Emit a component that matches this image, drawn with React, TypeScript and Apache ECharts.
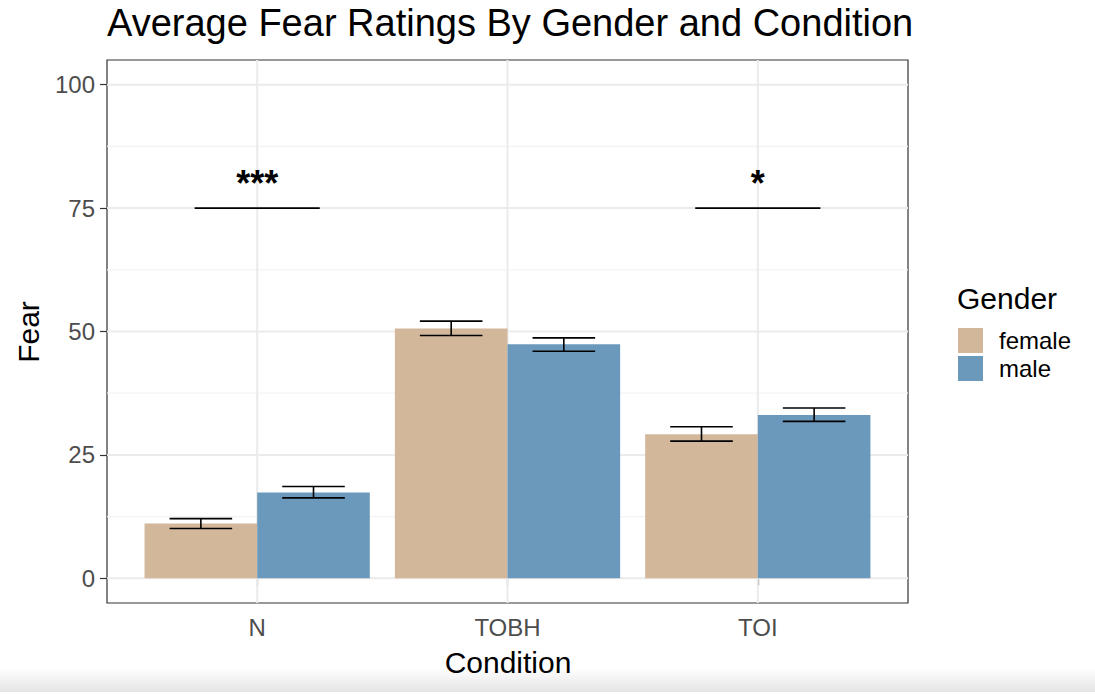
import React, { useEffect, useRef } from 'react';
import * as echarts from 'echarts';

const categories = ['N', 'TOBH', 'TOI'];
const genders = ['female', 'male'];
const femaleMeans = [11.1, 50.6, 29.2];
const maleMeans = [17.4, 47.4, 33.1];
const femaleLow = [10.1, 49.2, 27.8];
const femaleHigh = [12.1, 52.1, 30.7];
const maleLow = [16.3, 46.0, 31.8];
const maleHigh = [18.6, 48.7, 34.5];
const yTicks = [0, 25, 50, 75, 100];
const yMinorTicks = [12.5, 37.5, 62.5, 87.5];
const sigCategories = ['N', 'TOI'];
const sigLabels = ['***', '*'];
const sigLineValue = 75;
const sigLabelValue = 80;

const FONT = '"Liberation Sans", Arial, Helvetica, sans-serif';
const FEMALE = '#D2B79B';
const MALE = '#6B99BB';
const DODGE = 0.225;
const HALF_BAR = 0.225;
const HALF_CAP = 0.125;
const HALF_SIG = 0.25;
const X_MIN = 0.4;
const X_MAX = 3.6;

export default function App() {
  const ref = useRef<HTMLDivElement>(null);
  useEffect(() => {
    const chart = echarts.init(ref.current as HTMLDivElement, null, { renderer: 'svg' });
    const catX = (c: string) => categories.indexOf(c) + 1;

    const barSeries = (name: string, means: number[], offset: number, color: string) => ({
      type: 'custom',
      name,
      itemStyle: { color },
      data: means.map((v, i) => [i + 1 + offset, v]),
      z: 3,
      renderItem: (params: any, api: any) => {
        const x = api.value(0);
        const y = api.value(1);
        const p1 = api.coord([x - HALF_BAR, y]);
        const p2 = api.coord([x + HALF_BAR, 0]);
        return {
          type: 'rect',
          shape: { x: p1[0], y: p1[1], width: p2[0] - p1[0], height: p2[1] - p1[1] },
          style: { fill: color },
        };
      },
    });

    const errSeries = (name: string, lows: number[], highs: number[], offset: number) => ({
      type: 'custom',
      name,
      data: lows.map((l, i) => [i + 1 + offset, l, highs[i]]),
      z: 4,
      renderItem: (params: any, api: any) => {
        const x = api.value(0);
        const lo = api.value(1);
        const hi = api.value(2);
        const a = api.coord([x, lo]);
        const b = api.coord([x, hi]);
        const l1 = api.coord([x - HALF_CAP, lo]);
        const r1 = api.coord([x + HALF_CAP, lo]);
        const l2 = api.coord([x - HALF_CAP, hi]);
        const r2 = api.coord([x + HALF_CAP, hi]);
        const st = { stroke: '#000', lineWidth: 1.6 };
        return {
          type: 'group',
          children: [
            { type: 'line', shape: { x1: a[0], y1: a[1], x2: b[0], y2: b[1] }, style: st },
            { type: 'line', shape: { x1: l1[0], y1: l1[1], x2: r1[0], y2: r1[1] }, style: st },
            { type: 'line', shape: { x1: l2[0], y1: l2[1], x2: r2[0], y2: r2[1] }, style: st },
          ],
        };
      },
    });

    const hGridSeries = (name: string, values: number[], color: string, width: number) => ({
      type: 'custom',
      name,
      data: values.map((v) => [2, v]),
      z: 1,
      silent: true,
      renderItem: (params: any, api: any) => {
        const v = api.value(1);
        const a = api.coord([X_MIN, v]);
        const b = api.coord([X_MAX, v]);
        return { type: 'line', shape: { x1: a[0], y1: a[1], x2: b[0], y2: b[1] }, style: { stroke: color, lineWidth: width } };
      },
    });

    const vGridSeries = {
      type: 'custom',
      name: 'vgrid',
      data: categories.map((c, i) => [i + 1, 50]),
      z: 1,
      silent: true,
      renderItem: (params: any, api: any) => {
        const x = api.value(0);
        const a = api.coord([x, -5]);
        const b = api.coord([x, 105]);
        return { type: 'line', shape: { x1: a[0], y1: a[1], x2: b[0], y2: b[1] }, style: { stroke: '#EBEBEB', lineWidth: 2 } };
      },
    };

    const sigSeries = {
      type: 'custom',
      name: 'sig',
      data: sigCategories.map((c) => [catX(c), sigLineValue, sigLabelValue]),
      z: 5,
      renderItem: (params: any, api: any) => {
        const x = api.value(0);
        const ly = api.value(1);
        const ty = api.value(2);
        const a = api.coord([x - HALF_SIG, ly]);
        const b = api.coord([x + HALF_SIG, ly]);
        const t = api.coord([x, ty]);
        return {
          type: 'group',
          children: [
            { type: 'line', shape: { x1: a[0], y1: a[1], x2: b[0], y2: b[1] }, style: { stroke: '#000', lineWidth: 1.6 } },
            {
              type: 'text',
              x: t[0],
              y: t[1],
              style: {
                text: sigLabels[params.dataIndex],
                fill: '#000',
                font: `bold 36px ${FONT}`,
                textAlign: 'center',
                textVerticalAlign: 'middle',
              },
            },
          ],
        };
      },
    };

    const option: any = {
      animation: false,
      backgroundColor: '#fff',
      textStyle: { fontFamily: FONT },
      grid: {
        left: 107,
        right: 187,
        top: 60,
        bottom: 95,
        show: true,
        borderColor: '#333333',
        borderWidth: 1.2,
        backgroundColor: '#fff',
        containLabel: false,
      },
      xAxis: {
        type: 'value',
        min: X_MIN,
        max: X_MAX,
        axisLine: { show: false },
        axisTick: { show: true, customValues: [1, 2, 3], length: 7, lineStyle: { color: '#333333', width: 1.2 } },
        axisLabel: {
          customValues: [1, 2, 3],
          formatter: (v: number) => categories[Math.round(v) - 1] || '',
          color: '#4D4D4D',
          fontSize: 24,
          fontFamily: FONT,
          margin: 12,
        },
        splitLine: { show: false },
      },
      yAxis: {
        type: 'value',
        min: -5,
        max: 105,
        axisLine: { show: false },
        axisTick: { show: true, customValues: yTicks, length: 7, lineStyle: { color: '#333333', width: 1.2 } },
        axisLabel: {
          customValues: yTicks,
          color: '#4D4D4D',
          fontSize: 24,
          fontFamily: FONT,
          margin: 12,
        },
        splitLine: { show: false },
      },
      legend: {
        orient: 'vertical',
        left: 958,
        top: 328,
        padding: 0,
        itemWidth: 25,
        itemHeight: 25,
        itemGap: 3,
        selectedMode: false,
        data: [
          { name: genders[0], icon: 'rect', itemStyle: { color: FEMALE } },
          { name: genders[1], icon: 'rect', itemStyle: { color: MALE } },
        ],
        textStyle: { fontSize: 24, color: '#000', fontFamily: FONT, padding: [0, 0, 0, 11] },
      },
      graphic: [
        {
          type: 'rect',
          left: 0,
          top: 668,
          shape: { width: 1095, height: 24 },
          style: {
            fill: new echarts.graphic.LinearGradient(0, 0, 0, 1, [
              { offset: 0, color: 'rgba(228,228,228,0)' },
              { offset: 1, color: 'rgba(228,228,228,1)' },
            ]),
          },
          silent: true,
          z: -10,
        },
        {
          type: 'text',
          x: 107,
          y: 23,
          style: { text: 'Average Fear Ratings By Gender and Condition', fill: '#000', font: `38px ${FONT}`, textVerticalAlign: 'middle' },
        },
        {
          type: 'text',
          x: 508,
          y: 662,
          style: { text: 'Condition', fill: '#000', font: `30px ${FONT}`, textAlign: 'center', textVerticalAlign: 'middle' },
        },
        {
          type: 'text',
          x: 28,
          y: 332,
          rotation: Math.PI / 2,
          style: { text: 'Fear', fill: '#000', font: `30px ${FONT}`, textAlign: 'center', textVerticalAlign: 'middle' },
        },
        {
          type: 'text',
          x: 957,
          y: 298,
          style: { text: 'Gender', fill: '#000', font: `30px ${FONT}`, textVerticalAlign: 'middle' },
        },
      ],
      series: [
        hGridSeries('minorGrid', yMinorTicks, '#F3F3F3', 1.2),
        hGridSeries('majorGrid', yTicks, '#EBEBEB', 2),
        vGridSeries,
        barSeries(genders[0], femaleMeans, -DODGE, FEMALE),
        barSeries(genders[1], maleMeans, DODGE, MALE),
        errSeries('femaleErr', femaleLow, femaleHigh, -DODGE),
        errSeries('maleErr', maleLow, maleHigh, DODGE),
        sigSeries,
      ],
    };
    chart.setOption(option);
    return () => chart.dispose();
  }, []);
  return (
    <div
      ref={ref}
      style={{ position: 'fixed', left: 0, top: 0, width: 1095, height: 698, background: '#fff' }}
    />
  );
}
